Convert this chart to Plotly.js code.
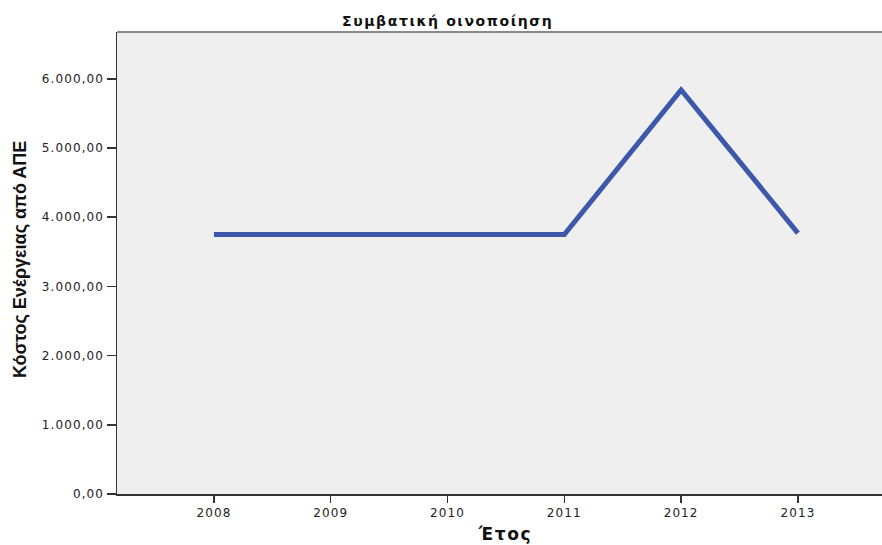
<!DOCTYPE html>
<html>
<head>
<meta charset="utf-8">
<script src="https://cdn.plot.ly/plotly-3.0.1.min.js"></script>
<style>
html,body{margin:0;padding:0;background:#fff;}
#chart{width:882px;height:545px;}
#chart .xtick text, #chart .ytick text{letter-spacing:1.1px;}
#chart g.annotation[data-index="0"] text{letter-spacing:1.6px;}
#chart g.annotation[data-index="1"] text{letter-spacing:1.6px;}
</style>
</head>
<body>
<div id="chart"></div>
<script>
const years = [2008, 2009, 2010, 2011, 2012, 2013];
const cost = [3750, 3750, 3750, 3750, 5840, 3770];
const yTicks = [0, 1000, 2000, 3000, 4000, 5000, 6000];
const chartTitle = "Συμβατική οινοποίηση";
const xTitle = "Έτος";
const yTitle = "Κόστος Ενέργειας από ΑΠΕ";

const trace = {
  x: years, y: cost, type: 'scatter', mode: 'lines',
  line: {color: '#3D57AB', width: 5},
  hoverinfo: 'skip'
};
const tickFont = {family: 'DejaVu Sans, Verdana, sans-serif', size: 12, color: '#222'};
const layout = {
  width: 882, height: 545,
  margin: {l: 117, r: 0, t: 32, b: 51},
  paper_bgcolor: '#ffffff', plot_bgcolor: '#EFEFEF',
  separators: ',.',
  showlegend: false,
  xaxis: {
    range: [2007.17, 2013.72], tickvals: years, ticktext: years.map(String),
    showgrid: false, zeroline: false, showline: true, linecolor: '#333', linewidth: 1.5,
    ticks: 'outside', ticklen: 7, tickwidth: 1.5, tickcolor: '#333', tickfont: tickFont,
    fixedrange: true
  },
  yaxis: {
    range: [0, 6677], tickvals: yTicks, tickformat: ',.2f',
    showgrid: false, zeroline: false, showline: true, linecolor: '#333', linewidth: 1.5,
    ticks: 'outside', ticklen: 9, tickwidth: 1.5, tickcolor: '#333', tickfont: tickFont,
    fixedrange: true
  },
  shapes: [{type: 'line', xref: 'paper', yref: 'paper', x0: 0, x1: 1, y0: 1, y1: 1,
            line: {color: '#8a8a8a', width: 2}}],
  annotations: [
    {text: '<b>' + chartTitle + '</b>', xref: 'paper', yref: 'paper',
     x: (447 - 117) / 765, y: 1, yshift: 11, xanchor: 'center', yanchor: 'middle', showarrow: false,
     font: {family: 'DejaVu Sans, Verdana, sans-serif', size: 14, color: '#111'}},
    {text: '<b>' + xTitle + '</b>', xref: 'paper', yref: 'paper',
     x: (505 - 117) / 765, y: 0, yshift: -40, xanchor: 'center', yanchor: 'middle', showarrow: false,
     font: {family: 'DejaVu Sans, Verdana, sans-serif', size: 17, color: '#111'}},
    {text: '<b>' + yTitle + '</b>', xref: 'paper', yref: 'paper', textangle: -90,
     x: 0, xshift: -97, y: (494 - 260) / 462, xanchor: 'center', yanchor: 'middle', showarrow: false,
     font: {family: 'Liberation Sans Narrow, Arial Narrow, Liberation Sans, sans-serif', size: 18, color: '#111'}}
  ]
};
Plotly.newPlot('chart', [trace], layout, {staticPlot: true, displayModeBar: false});
</script>
</body>
</html>
